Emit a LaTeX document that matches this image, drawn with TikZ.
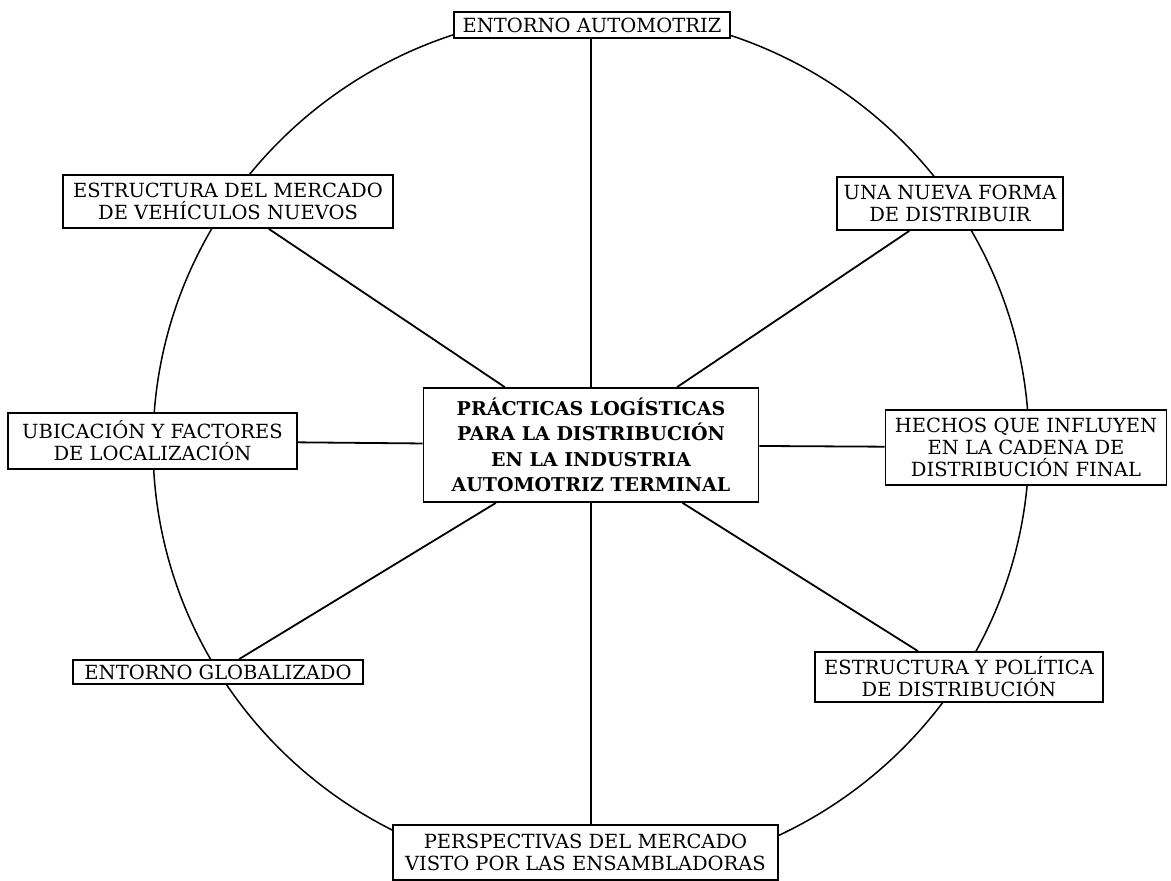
\documentclass[tikz,border=0pt]{standalone}
\usepackage{fontspec}
\setmainfont{DejaVu Serif}
\begin{document}
\begin{tikzpicture}[x=1pt,y=-1pt,
  box/.style={draw,line width=1.8pt,fill=white,align=center,inner sep=1pt,
    font=\fontsize{19.5}{22}\selectfont},
  hub/.style={box,font=\bfseries\fontsize{19}{25.5}\selectfont},
  spoke/.style={line width=1.8pt}]
\useasboundingbox (0,0) rectangle (1171,881);
% outer ring
\draw[line width=1.5pt] (591,445) ellipse [x radius=438, y radius=432];
% central topic
\node[hub,minimum width=335,minimum height=114] (c) at (591,445)
  {PRÁCTICAS LOGÍSTICAS\\PARA LA DISTRIBUCIÓN\\EN LA INDUSTRIA\\AUTOMOTRIZ TERMINAL};
% surrounding topics
\node[box,minimum width=276,minimum height=26] (top) at (592,25) {ENTORNO AUTOMOTRIZ};
\node[box,minimum width=330,minimum height=53] (merc) at (228,201.5) {ESTRUCTURA DEL MERCADO\\DE VEHÍCULOS NUEVOS};
\node[box,minimum width=226,minimum height=53] (nueva) at (950,203.5) {UNA NUEVA FORMA\\DE DISTRIBUIR};
\node[box,minimum width=289,minimum height=56] (ubic) at (152.5,441) {UBICACIÓN Y FACTORES\\DE LOCALIZACIÓN};
\node[box,minimum width=281,minimum height=75] (hech) at (1026,447.5) {HECHOS QUE INFLUYEN\\EN LA CADENA DE\\DISTRIBUCIÓN FINAL};
\node[box,minimum width=290,minimum height=24] (glob) at (218,672) {ENTORNO GLOBALIZADO};
\node[box,minimum width=288,minimum height=50] (pol) at (959,677) {ESTRUCTURA Y POLÍTICA\\DE DISTRIBUCIÓN};
\node[box,minimum width=385,minimum height=55] (persp) at (585.5,852.5) {PERSPECTIVAS DEL MERCADO\\VISTO POR LAS ENSAMBLADORAS};
% spokes: vertical ones kept straight, the rest run centre to centre
\draw[spoke] (c.north) -- (c.north |- top.south);
\draw[spoke] (c.south) -- (c.south |- persp.north);
\foreach \n in {merc,nueva,ubic,hech,glob,pol}
  \draw[spoke] (c) -- (\n);
\end{tikzpicture}
\end{document}
